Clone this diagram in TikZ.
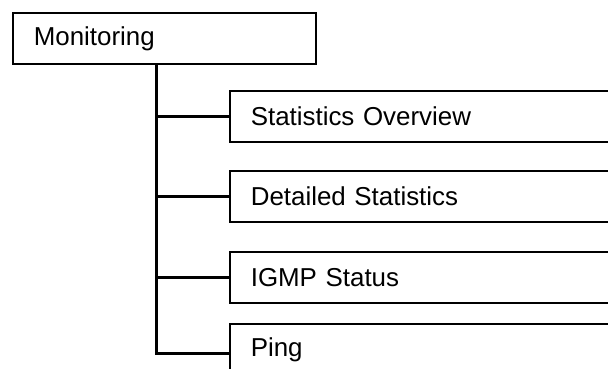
\documentclass[tikz,border=0pt]{standalone}
\usepackage{fontspec}
\setmainfont{Liberation Sans}
\tikzset{
  menubox/.style={draw, line width=1.6bp, anchor=north west, minimum height=51bp,
    text width=#1, align=left, inner xsep=21bp, inner ysep=0pt,
    font=\fontsize{26}{30}\selectfont},
  menubox/.default=261bp,
  branch/.style={line width=2.8bp, line cap=rect}
}
\begin{document}
\begin{tikzpicture}[x=1bp,y=1bp]
        % Page (608 x 368)
        \useasboundingbox (0,0) rectangle (608,-368);
        \clip (0,0) rectangle (608,-368);

        % Menu racine
        \node[menubox] (monitoring) at (12,-12) {Monitoring};

        % Sous-menus (coupés au bord droit)
        \node[menubox=400bp] (overview) at (229,-90) {Statistics Overview};
        \node[menubox=400bp] (detailed) at (229,-170) {Detailed Statistics};
        \node[menubox=400bp] (igmp) at (229,-251) {IGMP Status};
        \node[menubox=400bp] (ping) at (229,-323) {Ping};

        % Arborescence
        \coordinate (trunk) at ([xshift=-7.5bp]monitoring.south);
        \draw[branch] (trunk) |- ([yshift=-4.5bp]ping.west);
        \draw[branch] (trunk |- overview.west) -- (overview.west);
        \draw[branch] (trunk |- detailed.west) -- (detailed.west);
        \draw[branch] (trunk |- igmp.west) -- (igmp.west);

    \end{tikzpicture}
\end{document}
